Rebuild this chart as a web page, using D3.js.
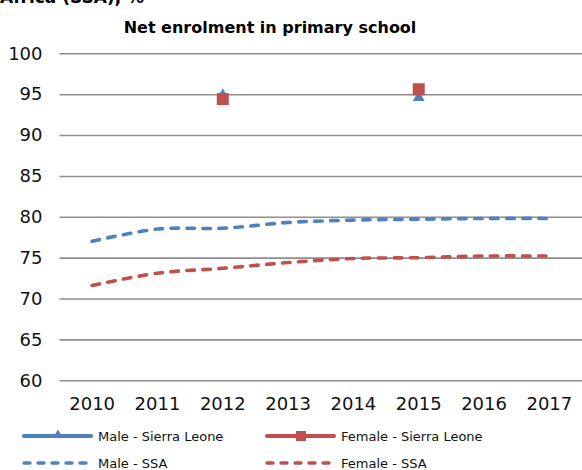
<!DOCTYPE html>
<html>
<head>
<meta charset="utf-8">
<script src="https://cdn.jsdelivr.net/npm/d3@7"></script>
<style>
  html, body { margin: 0; padding: 0; background: #fff; }
  svg { display: block; font-family: "DejaVu Sans", sans-serif; }
</style>
</head>
<body>
<svg id="chart" width="582" height="470"></svg>
<script>
// Years on the category axis
const years = ["2010", "2011", "2012", "2013", "2014", "2015", "2016", "2017"];
// Sierra Leone survey values (only 2012 and 2015 available)
const maleSierraLeone   = [null, null, 95.0, null, null, 94.7, null, null];
const femaleSierraLeone = [null, null, 94.4, null, null, 95.6, null, null];
// Sub-Saharan Africa averages
const maleSSA   = [77.0, 78.5, 78.6, 79.3, 79.6, 79.7, 79.8, 79.8];
const femaleSSA = [71.6, 73.1, 73.7, 74.4, 74.9, 75.0, 75.2, 75.2];
// Value axis ticks
const yTicks = [60, 65, 70, 75, 80, 85, 90, 95, 100];

const BLUE = "#4f81bd";
const RED = "#c0504d";

const svg = d3.select("#chart");

const x = d3.scaleBand().domain(years).range([59.5, 582]).padding(0);
const cx = d => x(d) + x.bandwidth() / 2;
const y = d3.scaleLinear().domain([60, 100]).range([380.3, 53.3]);

// Heading (first line continues above the visible area)
svg.append("text")
  .attr("x", 0).attr("y", 3)
  .attr("font-weight", "bold").attr("font-size", 17)
  .text("Africa (SSA), %");

svg.append("text")
  .attr("x", 270).attr("y", 32.5)
  .attr("text-anchor", "middle")
  .attr("font-weight", "bold").attr("font-size", 16)
  .text("Net enrolment in primary school");

// Horizontal gridlines + value labels
const yAxis = svg.append("g")
  .attr("transform", "translate(59.5,0)")
  .call(d3.axisLeft(y).tickValues(yTicks).tickSize(-(582 - 59.5)).tickPadding(17));
yAxis.select(".domain").remove();
yAxis.selectAll(".tick line").attr("stroke", "#8e8e8e").attr("stroke-width", 1.6);
yAxis.selectAll(".tick text")
  .attr("font-size", 18).attr("fill", "#111")
  .attr("font-family", "DejaVu Sans, sans-serif");

// Category labels
const xAxis = svg.append("g")
  .attr("transform", "translate(0,380.3)")
  .call(d3.axisBottom(x).tickSize(0).tickPadding(17));
xAxis.select(".domain").remove();
xAxis.selectAll(".tick text")
  .attr("font-size", 18).attr("fill", "#111")
  .attr("font-family", "DejaVu Sans, sans-serif");

// Smoothed dashed regional lines
const line = d3.line()
  .defined(d => d.v != null)
  .x(d => cx(d.year))
  .y(d => y(d.v))
  .curve(d3.curveCatmullRom.alpha(0));

function pairs(vals) { return years.map((yr, i) => ({ year: yr, v: vals[i] })); }

[[maleSSA, BLUE], [femaleSSA, RED]].forEach(([vals, col]) => {
  svg.append("path")
    .datum(pairs(vals))
    .attr("d", line)
    .attr("fill", "none")
    .attr("stroke", col)
    .attr("stroke-width", 3.6)
    .attr("stroke-linecap", "round")
    .attr("stroke-dasharray", "7.5,8.5");
});

// Sierra Leone markers
const tri = d3.symbol().type(d3.symbolTriangle).size(62);
svg.append("g").selectAll("path")
  .data(pairs(maleSierraLeone).filter(d => d.v != null))
  .join("path")
  .attr("d", tri)
  .attr("transform", d => `translate(${cx(d.year)},${y(d.v) + 1})`)
  .attr("fill", BLUE);

const sq = 12;
svg.append("g").selectAll("rect")
  .data(pairs(femaleSierraLeone).filter(d => d.v != null))
  .join("rect")
  .attr("x", d => cx(d.year) - sq / 2)
  .attr("y", d => y(d.v) - sq / 2)
  .attr("width", sq).attr("height", sq)
  .attr("fill", RED);

// Legend
const legendItems = [
  { label: "Male - Sierra Leone", color: BLUE, dashed: false, marker: "tri", lx: 22, ly: 436 },
  { label: "Female - Sierra Leone", color: RED, dashed: false, marker: "sq", lx: 265, ly: 436 },
  { label: "Male - SSA", color: BLUE, dashed: true, marker: null, lx: 22, ly: 463 },
  { label: "Female - SSA", color: RED, dashed: true, marker: null, lx: 265, ly: 463 }
];
const lg = svg.append("g").selectAll("g").data(legendItems).join("g")
  .attr("transform", d => `translate(${d.lx},${d.ly})`);
lg.append("line")
  .attr("x1", 2).attr("x2", 69)
  .attr("stroke", d => d.color)
  .attr("stroke-width", d => d.dashed ? 3.4 : 4.2)
  .attr("stroke-linecap", "round")
  .attr("stroke-dasharray", d => d.dashed ? "6,8" : null);
lg.filter(d => d.marker === "tri").append("path")
  .attr("d", d3.symbol().type(d3.symbolTriangle).size(40))
  .attr("transform", "translate(36,-1)")
  .attr("fill", d => d.color);
lg.filter(d => d.marker === "sq").append("rect")
  .attr("x", 31).attr("y", -5).attr("width", 10).attr("height", 10)
  .attr("fill", d => d.color);
lg.append("text")
  .attr("x", 76).attr("y", 5)
  .attr("font-size", 13).attr("fill", "#111")
  .text(d => d.label);
</script>
</body>
</html>
